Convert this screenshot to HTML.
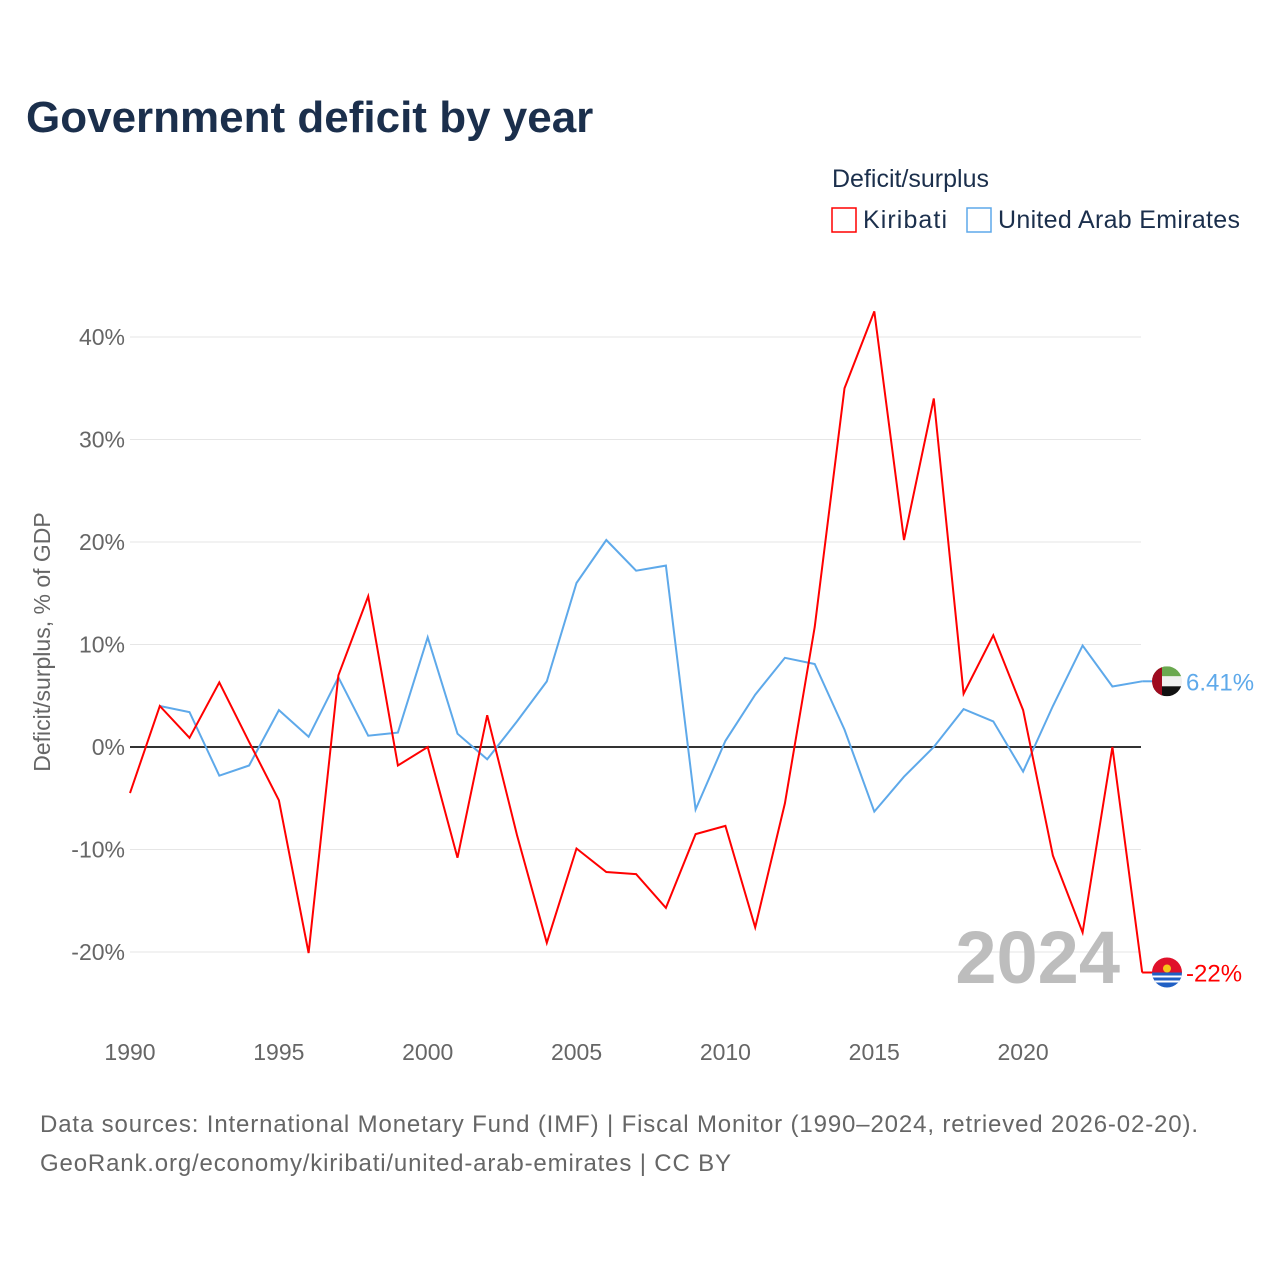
<!DOCTYPE html>
<html><head><meta charset="utf-8"><style>
body{margin:0;background:#fff;font-family:"Liberation Sans",sans-serif;}
svg text{font-family:"Liberation Sans",sans-serif;}
</style></head><body>
<svg id="c" width="1280" height="1280" xmlns="http://www.w3.org/2000/svg">
<text x="26" y="132" font-size="44" font-weight="bold" fill="#1b2f4c">Government deficit by year</text>
<text x="832" y="187" font-size="25" fill="#1b2f4c">Deficit/surplus</text>
<g><rect x="832" y="208" width="24" height="24" fill="none" stroke="#ff0000" stroke-width="1.5"/><text x="863" y="228" font-size="25" fill="#1b2f4c" textLength="84">Kiribati</text></g>
<g><rect x="967" y="208" width="24" height="24" fill="none" stroke="#5ea9ea" stroke-width="1.5"/><text x="998" y="228" font-size="25" fill="#1b2f4c" textLength="242">United Arab Emirates</text></g>
<text transform="translate(50,642) rotate(-90)" text-anchor="middle" font-size="23" fill="#666">Deficit/surplus, % of GDP</text>
<g id="grid"></g><g id="lines"></g>
<text x="1120" y="983" text-anchor="end" font-size="74" font-weight="bold" fill="#bdbdbd">2024</text>
<text x="40" y="1132" font-size="24" fill="#666" textLength="1158">Data sources: International Monetary Fund (IMF) | Fiscal Monitor (1990–2024, retrieved 2026-02-20).</text>
<text x="40" y="1171" font-size="24" fill="#666" textLength="691">GeoRank.org/economy/kiribati/united-arab-emirates | CC BY</text>
</svg>
<script>
const years=[1990,1991,1992,1993,1994,1995,1996,1997,1998,1999,2000,2001,2002,2003,2004,2005,2006,2007,2008,2009,2010,2011,2012,2013,2014,2015,2016,2017,2018,2019,2020,2021,2022,2023,2024];
const kiribati=[-4.5,4.0,0.9,6.3,0.5,-5.2,-20.1,7.0,14.7,-1.8,0,-10.8,3.1,-8.6,-19.1,-9.9,-12.2,-12.4,-15.7,-8.5,-7.7,-17.6,-5.5,11.7,35.0,42.5,20.2,34.0,5.2,10.9,3.6,-10.6,-18.1,0,-22];
const uae=[null,4.0,3.4,-2.8,-1.8,3.6,1.0,6.8,1.1,1.4,10.7,1.3,-1.2,2.5,6.4,16.0,20.2,17.2,17.7,-6.1,0.6,5.1,8.7,8.1,1.7,-6.3,-2.9,0,3.7,2.5,-2.4,4.0,9.9,5.9,6.41];
const yTicks=[-20,-10,0,10,20,30,40];
const xTicks=[1990,1995,2000,2005,2010,2015,2020];
const X=y=>130+(y-1990)*29.77, Y=v=>747-v*10.25;
const NS="http://www.w3.org/2000/svg";
const g=document.getElementById('grid'), L=document.getElementById('lines');
function mk(tag,at,parent){const e=document.createElementNS(NS,tag);for(const k in at)e.setAttribute(k,at[k]);parent.appendChild(e);return e;}
yTicks.forEach(t=>{
 const l=mk('line',{x1:130,x2:1141,y1:Y(t),y2:Y(t),stroke:t===0?'#333':'#e6e6e6','stroke-width':t===0?2:1},g);
 
 
 const tx=mk('text',{x:125,y:Y(t)+8,'text-anchor':'end','font-size':23,fill:'#666'},g);tx.textContent=t+'%';
 
 
});
xTicks.forEach(t=>{
 const tx=mk('text',{x:X(t),y:1060,'text-anchor':'middle','font-size':23,fill:'#666'},g);tx.textContent=t;
 
 
});
function line(vals,color,name){
 let d='';vals.forEach((v,i)=>{if(v===null)return;d+=(d?'L':'M')+X(years[i]).toFixed(1)+','+Y(v).toFixed(1);});
 const p=mk('path',{d:d,fill:'none',stroke:color,'stroke-width':2},L);
 
 
}
line(uae,'#5ea9ea','uae-line');
line(kiribati,'#ff0000','kiribati-line');
function endLabel(v,color,name,flag){
 const y=Y(v);
 mk('line',{x1:X(2024),x2:1155,y1:y,y2:y,stroke:color,'stroke-width':2},L);
 const c=mk('g',{},L);
 
 
 flag(c,1167,y);
 const t=mk('text',{x:1186,y:y+9,'font-size':24,fill:color},L);t.textContent=(Math.abs(v)%1?v.toFixed(2):v)+'%';
 
 
}
endLabel(uae[uae.length-1],'#5ea9ea','uae',(c,x,y)=>{
 const cp=mk('clipPath',{id:'cu'},c);mk('circle',{cx:x,cy:y,r:15},cp);
 const gg=mk('g',{'clip-path':'url(#cu)'},c);
 mk('rect',{x:x-15,y:y-15,width:30,height:10,fill:'#6aa84f'},gg);
 mk('rect',{x:x-15,y:y-5,width:30,height:10,fill:'#f0f0f0'},gg);
 mk('rect',{x:x-15,y:y+5,width:30,height:10,fill:'#111'},gg);
 mk('rect',{x:x-15,y:y-15,width:10,height:30,fill:'#9e0b1f'},gg);
});
endLabel(kiribati[kiribati.length-1],'#ff0000','kiribati',(c,x,y)=>{
 const cp=mk('clipPath',{id:'ck'},c);mk('circle',{cx:x,cy:y,r:15},cp);
 const gg=mk('g',{'clip-path':'url(#ck)'},c);
 mk('rect',{x:x-15,y:y-15,width:30,height:15,fill:'#e0112b'},gg);
 mk('rect',{x:x-15,y:y,width:30,height:15,fill:'#1f5fc4'},gg);
 mk('rect',{x:x-15,y:y+3,width:30,height:2,fill:'#fff'},gg);
 mk('rect',{x:x-15,y:y+8,width:30,height:2,fill:'#fff'},gg);
 mk('circle',{cx:x,cy:y-4,r:4,fill:'#f5c518'},gg);
});
</script>
</body></html>
